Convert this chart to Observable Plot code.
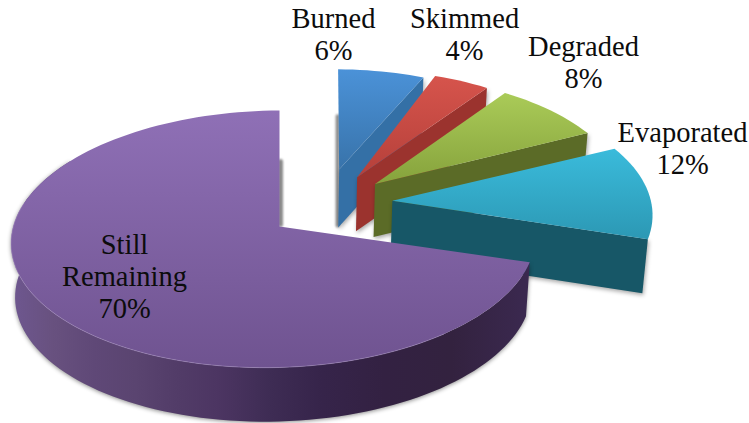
<!DOCTYPE html>
<html>
<head>
<meta charset="utf-8">
<script src="https://cdn.jsdelivr.net/npm/d3@7"></script>
<script src="https://cdn.jsdelivr.net/npm/@observablehq/plot@0.6"></script>
<style>html,body{margin:0;padding:0;background:#fff}svg{display:block}</style>
</head>
<body>
<div id="chart"></div>
<script>
// Data
const categories = ["Burned", "Skimmed", "Degraded", "Evaporated", "Still\nRemaining"];
const percents = [6, 4, 8, 12, 70];

// Label placement
const labelX = [333, 464, 583, 682, 124];
const labelY = [33, 33, 61, 147, 275];

// Colours: top gradient start, top gradient end, radial side
const topLight = ["#4b92d8", "#d6544c", "#aacb58", "#3abbdb", "#8f70b6"];
const topDark = ["#3873aa", "#b5403a", "#86a23c", "#2c98b4", "#6f5390"];
const sideFill = ["#3470a6", "#9b332e", "#5b6b27", "#175767", "#3a2850"];

// View: perspective map of the pie's plane
const view = {cx: 279, cy: 226, a: 261, c: -4, d: -127.3, q: 0.023, p: 0.097, shrink: 0.985};
// Explosion of each slice in the pie's plane
const offsetX = [0.24, 0.311, 0.381, 0.445, 0];
const offsetY = [0.462, 0.394, 0.335, 0.194, 0];
const radius = [0.94, 1.01, 1.02, 1.05, 1];
const turnStart = [1, 0, 0, 1, 0];
const turnEnd = [2.9, 0, 0, 1, 0];
const depth = [58, 54, 53, 54, 54];

const rad = d => d * Math.PI / 180;
function project(X, Y) {
  const w = 1 + view.q * X + view.p * Y;
  return {x: view.cx + view.a * X / w, y: view.cy + (view.c * X + view.d * Y) / w};
}
function lower(pt, h) {
  return {x: view.cx + (pt.x - view.cx) * view.shrink, y: pt.y + h};
}

let acc = 0;
const slices = percents.map((v, i) => {
  const start = acc / 100 * 360 + turnStart[i];
  acc += v;
  const end = acc / 100 * 360 + turnEnd[i];
  const rim = (t) => project(offsetX[i] + radius[i] * Math.sin(rad(t)), offsetY[i] + radius[i] * Math.cos(rad(t)));
  const n = Math.max(6, Math.round((end - start) / 2));
  const arc = d3.range(n + 1).map(k => rim(start + (end - start) * k / n));
  const apex = project(offsetX[i], offsetY[i]);
  return {i, start, end, arc, apex, rim, h: depth[i]};
});

function face(points, fill, extra = {}) {
  return Plot.line(points, {x: "x", y: "y", fill, stroke: "none", ...extra});
}

function gradients() {
  const defs = d3.create("svg:defs");
  categories.forEach((_, i) => {
    const g = defs.append("linearGradient").attr("id", "top" + i)
      .attr("x1", 0).attr("y1", 0).attr("x2", 0).attr("y2", 1);
    g.append("stop").attr("offset", 0).attr("stop-color", topLight[i]);
    g.append("stop").attr("offset", 1).attr("stop-color", topDark[i]);
  });
  const bandStops = [
    [0, "#6e5790"], [0.08, "#68517f"], [0.16, "#5f4877"], [0.24, "#5a4470"], [0.32, "#523c68"],
    [0.4, "#4c3562"], [0.5, "#3e2c54"], [0.6, "#36244a"], [0.72, "#332142"], [0.85, "#33223f"], [1, "#3b2950"]
  ];
  const w = defs.append("linearGradient").attr("id", "wall")
    .attr("x1", 0).attr("y1", 0).attr("x2", 1).attr("y2", 0);
  bandStops.forEach(([o, c]) => w.append("stop").attr("offset", o).attr("stop-color", c));
  return defs.node();
}

const marks = [gradients];

// Slim shadows that the hidden back walls cast on the page
const burned = slices[0];
const backShadow = [
  [{x: burned.apex.x - 1.5, y: burned.arc[0].y + 47}, {x: burned.apex.x - 1.5, y: burned.apex.y + burned.h - 2}],
  [{x: view.cx + 1, y: slices[4].rim(360).y + 51}, {x: view.cx + 1, y: view.cy - 2}]
];

// Exploded slices, back to front
slices.slice(0, 4).forEach(s => {
  const corner = s.arc[s.arc.length - 1];
  if (s.i === 0) marks.push(Plot.line(backShadow[0], {x: "x", y: "y", stroke: "#8a8a8a", strokeWidth: 4, imageFilter: "blur(1.2px)"}));
  marks.push(face(
    [s.apex, corner, lower(corner, s.h), lower(s.apex, s.h)],
    sideFill[s.i],
    {imageFilter: "drop-shadow(1px 2px 2px rgba(0,0,0,0.35))"}
  ));
  marks.push(face([s.apex, ...s.arc], `url(#top${s.i})`));
});

// Main slice
const main = slices[4];
marks.push(Plot.line(backShadow[1], {x: "x", y: "y", stroke: "#8a8a8a", strokeWidth: 5, imageFilter: "blur(1.2px)"}));
const frontArc = main.arc.slice(0, Math.round(main.arc.length * 0.78));
const wallPts = [...frontArc, ...frontArc.map(p => lower(p, main.h)).reverse()];
marks.push(face(wallPts, "url(#wall)", {imageFilter: "drop-shadow(0px 1px 2px rgba(0,0,0,0.45))"}));
marks.push(face([main.apex, ...main.arc], "url(#top4)"));
marks.push(Plot.line(main.arc.slice(18, 88), {x: "x", y: "y", stroke: "#a78fc4", strokeWidth: 1, strokeOpacity: 0.5}));

// Labels
const labels = categories.map((c, i) => ({text: `${c}\n${percents[i]}%`, x: labelX[i], y: labelY[i]}));
marks.push(Plot.text(labels, {
  x: "x", y: "y", text: "text", fontSize: 28.5, lineHeight: 1.12,
  fontFamily: "Liberation Serif", fill: "#0c0c0c", textAnchor: "middle"
}));

const chart = Plot.plot({
  width: 749, height: 423,
  margin: 0,
  style: {background: "#fff"},
  x: {axis: null, domain: [0, 749]},
  y: {axis: null, domain: [423, 0]},
  marks
});
document.getElementById("chart").append(chart);
</script>
</body>
</html>
